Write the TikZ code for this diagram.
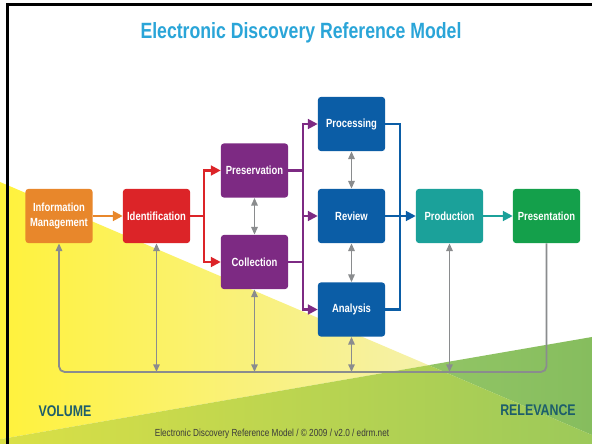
\documentclass[tikz,border=0pt]{standalone}
\usepackage{fontspec}
\setmainfont[FakeStretch=0.8]{Liberation Sans}
\usetikzlibrary{arrows.meta}

\definecolor{titolo}{HTML}{2AA5D8}
\definecolor{arancio}{HTML}{E8872B}
\definecolor{rosso}{HTML}{DC2428}
\definecolor{viola}{HTML}{7D2A83}
\definecolor{blu}{HTML}{0B5DA6}
\definecolor{ottanio}{HTML}{1BA19A}
\definecolor{verde}{HTML}{14A04B}
\definecolor{grigio}{HTML}{8A8C8E}
\definecolor{petrolio}{HTML}{1D5E6B}

\begin{document}
\begin{tikzpicture}[x=0.025cm, y=-0.025cm,
  fase/.style={rounded corners=2pt, minimum width=1.675cm, minimum height=1.35cm, inner sep=1pt,
    text=white, align=center, font=\bfseries\fontsize{8.4}{11}\selectfont},
  freccia/.style={line width=1.5pt, -{Triangle[length=7pt,width=7pt]}},
  linea/.style={line width=1.5pt},
  ritorno/.style={line width=1.3pt, color=grigio, {Triangle[length=5.5pt,width=4.5pt]}-{Triangle[length=5.5pt,width=4.5pt]}}]

\useasboundingbox (0,0) rectangle (592,444);
\fill[white] (0,0) rectangle (592,444);

%% sfondo: volume (giallo) e rilevanza (verde)
\shade[left color={rgb,255:red,255;green,242;blue,60}, right color={rgb,255:red,245;green,241;blue,170}] (0,182) -- (428.6,365.2) -- (0,439.2) -- cycle;
\shade[left color={rgb,255:red,146;green,197;blue,101}, right color={rgb,255:red,134;green,189;blue,94}] (428.6,365.2) -- (592,337) -- (592,435) -- cycle;
\shade[left color={rgb,255:red,218;green,224;blue,70}, right color={rgb,255:red,156;green,201;blue,90}] (0,439.2) -- (428.6,365.2) -- (592,435) -- (592,444) -- (0,444) -- cycle;

\draw[line width=2.2pt] (7.5,444) -- (7.5,4.5) -- (592,4.5); %cornice

\node[text=titolo, font=\bfseries\fontsize{15.7}{18}\selectfont] (titolo) at (301,33) {Electronic Discovery Reference Model};

\node[fase, fill=arancio] (info) at (59,216) {Information\\Management};
\node[fase, fill=rosso] (ident) at (156.5,216) {Identification};
\node[fase, fill=viola] (pres) at (254.5,170.5) {Preservation};
\node[fase, fill=viola] (coll) at (254.5,262) {Collection};
\node[fase, fill=blu] (proc) at (351.5,124) {Processing};
\node[fase, fill=blu] (rev) at (351.5,216) {Review};
\node[fase, fill=blu] (anal) at (351.5,309.5) {Analysis};
\node[fase, fill=ottanio] (prod) at (449.5,216) {Production};
\node[fase, fill=verde] (prsn) at (546.5,216) {Presentation};

\coordinate (rnodo) at (204,216);
\coordinate (vnodo) at (303,216);
\coordinate (bnodo) at (400,216);
\coordinate (bus) at (0,372);

\draw[freccia, arancio] (info) -- (ident); %freccia
\draw[linea, rosso] (ident) -- (rnodo);
\draw[freccia, rosso] (rnodo) |- (pres);
\draw[freccia, rosso] (rnodo) |- (coll);

\draw[linea, viola] (pres) -| (vnodo);
\draw[linea, viola] (coll) -| (vnodo);
\draw[freccia, viola] (vnodo) |- (proc);
\draw[freccia, viola] (vnodo) -- (rev);
\draw[freccia, viola] (vnodo) |- (anal);

\draw[linea, blu] (proc) -| (bnodo);
\draw[linea, blu] (anal) -| (bnodo);
\draw[freccia, blu] (rev) -- (prod);
\draw[freccia, ottanio] (prod) -- (prsn);

\draw[ritorno] (pres) -- (coll);
\draw[ritorno] (proc) -- (rev);
\draw[ritorno] (rev) -- (anal);

%% anello di ritorno in basso
\draw[line width=1.3pt, color=grigio, rounded corners=4pt, -{Triangle[length=5.5pt,width=4.5pt]}]
  (prsn.south) -- (prsn.south |- bus) -- (info.south |- bus) -- (info.south);
\draw[ritorno] (ident.south) -- (ident.south |- bus);
\draw[ritorno] (coll.south) -- (coll.south |- bus);
\draw[ritorno] (anal.south) -- (anal.south |- bus);
\draw[ritorno] (prod.south) -- (prod.south |- bus);

\node[text=petrolio, font=\bfseries\fontsize{11}{13}\selectfont] (volume) at (65,411) {VOLUME};
\node[text=petrolio, font=\bfseries\fontsize{11}{13}\selectfont] (rilevanza) at (538,410) {RELEVANCE};
\node[text={rgb,255:red,58;green,58;blue,58}, font=\fontsize{7.3}{8}\selectfont] (piede) at (272,434) {Electronic Discovery Reference Model / © 2009 / v2.0 / edrm.net};

\end{tikzpicture}
\end{document}
